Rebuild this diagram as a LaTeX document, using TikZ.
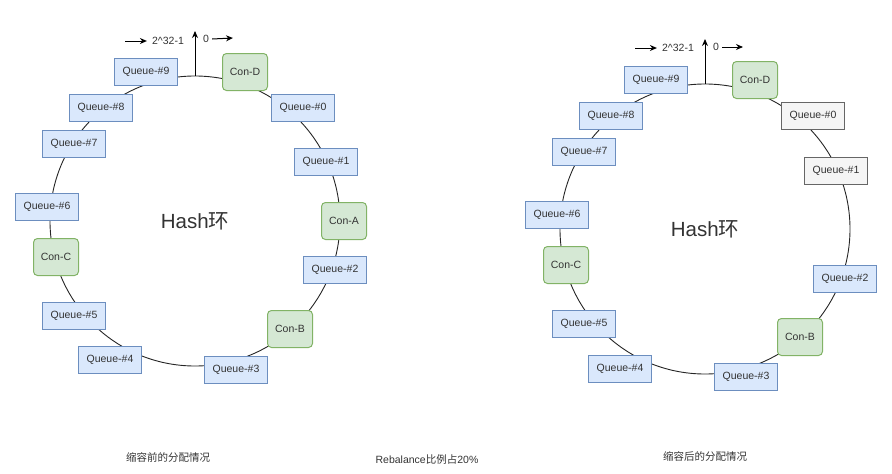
\documentclass[tikz,border=0pt]{standalone}
\usepackage{fontspec}
\setmainfont{Liberation Sans}
\newfontfamily\cjk{Noto Sans CJK SC}
\usetikzlibrary{arrows.meta}
\definecolor{qfill}{HTML}{DAE8FC}
\definecolor{qline}{HTML}{6C8EBF}
\definecolor{cfill}{HTML}{D5E8D4}
\definecolor{cline}{HTML}{82B366}
\definecolor{ofill}{HTML}{F5F5F5}
\definecolor{oline}{HTML}{666666}
\definecolor{txt}{HTML}{333333}
\tikzset{
  queue/.style={draw=qline,fill=qfill,line width=1pt,minimum width=63pt,minimum height=27pt,inner sep=0pt},
  qold/.style={queue,draw=oline,fill=ofill},
  con/.style={draw=cline,fill=cfill,line width=1pt,rounded corners=4pt,minimum width=45pt,minimum height=37pt,inner sep=0pt},
  ring/.style={circle,draw=black!85,line width=0.9pt,minimum size=290pt,inner sep=0pt,font=\fontsize{20.5}{24}\selectfont},
  ptr/.style={-{Stealth[length=7pt,width=6pt]},line width=1pt},
  lbl/.style={inner sep=1pt},
  capt/.style={text=txt},
}
\begin{document}
\begin{tikzpicture}[x=1pt,y=-1pt,every node/.style={font=\fontsize{10.5}{12}\selectfont,text=txt}]
\useasboundingbox (0,0) rectangle (892,474);
% ring before scale-in
\node[ring] (ringL) at (195,221) {Hash{\cjk 环}};
\coordinate (topL) at (195,31);
\draw[ptr] (ringL.north) -- (topL);
\node[lbl] (maxL) at (168,41) {2\textasciicircum 32-1};
\node[lbl] (zeroL) at (206,39) {0};
\coordinate (inL) at (125,41);
\coordinate (outL) at (233,38);
\draw[ptr] (inL) -- ([xshift=-4pt]maxL.west);
\draw[ptr] ([xshift=2pt]zeroL.east) -- (outL);
\node[queue] (q9L) at (146,72) {Queue-\#9};
\node[con] (cdL) at (245,72) {Con-D};
\node[queue] (q8L) at (101,108) {Queue-\#8};
\node[queue] (q0L) at (303,108) {Queue-\#0};
\node[queue] (q7L) at (74,144) {Queue-\#7};
\node[queue] (q1L) at (326,162) {Queue-\#1};
\node[queue] (q6L) at (47,207) {Queue-\#6};
\node[con] (caL) at (344,221) {Con-A};
\node[con] (ccL) at (56,257) {Con-C};
\node[queue] (q2L) at (335,270) {Queue-\#2};
\node[queue] (q5L) at (74,316) {Queue-\#5};
\node[con] (cbL) at (290,329) {Con-B};
\node[queue] (q4L) at (110,360) {Queue-\#4};
\node[queue] (q3L) at (236,370) {Queue-\#3};
% ring after scale-in
\node[ring] (ringR) at (705,229) {Hash{\cjk 环}};
\coordinate (topR) at (705,39);
\draw[ptr] (ringR.north) -- (topR);
\node[lbl] (maxR) at (678,48) {2\textasciicircum 32-1};
\node[lbl] (zeroR) at (716,47) {0};
\coordinate (inR) at (635,48);
\coordinate (outR) at (743,47);
\draw[ptr] (inR) -- ([xshift=-4pt]maxR.west);
\draw[ptr] ([xshift=2pt]zeroR.east) -- (outR);
\node[queue] (q9R) at (656,80) {Queue-\#9};
\node[con] (cdR) at (755,80) {Con-D};
\node[queue] (q8R) at (611,116) {Queue-\#8};
\node[qold] (q0R) at (813,116) {Queue-\#0};
\node[queue] (q7R) at (584,152) {Queue-\#7};
\node[qold] (q1R) at (836,171) {Queue-\#1};
\node[queue] (q6R) at (557,215) {Queue-\#6};
\node[con] (ccR) at (566,265) {Con-C};
\node[queue] (q2R) at (845,279) {Queue-\#2};
\node[queue] (q5R) at (584,324) {Queue-\#5};
\node[con] (cbR) at (800,337) {Con-B};
\node[queue] (q4R) at (620,369) {Queue-\#4};
\node[queue] (q3R) at (746,377) {Queue-\#3};
% captions
\node[capt] (capL) at (168,457) {\cjk 缩容前的分配情况};
\node[capt] (capM) at (427,460) {Rebalance{\cjk 比例占}20\%};
\node[capt] (capR) at (705,456) {\cjk 缩容后的分配情况};
\end{tikzpicture}
\end{document}
